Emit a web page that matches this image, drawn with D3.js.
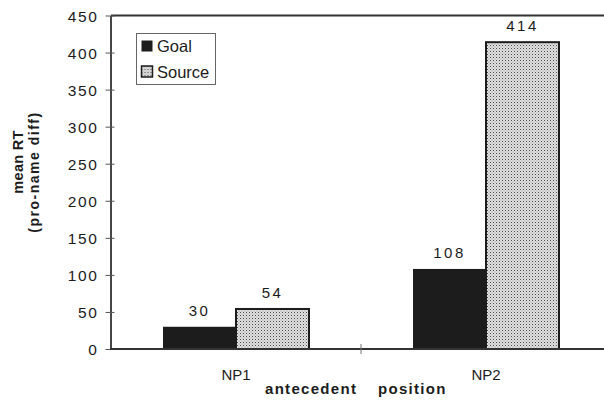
<!DOCTYPE html>
<html>
<head>
<meta charset="utf-8">
<script src="https://cdn.jsdelivr.net/npm/d3@7"></script>
<style>
  html, body { margin: 0; padding: 0; background: #fff; }
  svg { display: block; font-family: "Liberation Sans", Arial, Helvetica, sans-serif; }
</style>
</head>
<body>
<svg id="chart" width="604" height="402"></svg>
<script>
// Data
const categories = ["NP1", "NP2"];
const seriesNames = ["Goal", "Source"];
const goalValues = [30, 108];
const sourceValues = [54, 414];
const yTicks = [0, 50, 100, 150, 200, 250, 300, 350, 400, 450];

const svg = d3.select("#chart");
const ink = "#1c1c1c";

// Dotted stipple used for the Source series
const defs = svg.append("defs");
const pat = defs.append("pattern")
  .attr("id", "stipple")
  .attr("patternUnits", "userSpaceOnUse")
  .attr("width", 3).attr("height", 3);
pat.append("rect").attr("width", 3).attr("height", 3).attr("fill", "#e0e0e0");
pat.append("rect").attr("x", 0).attr("y", 0).attr("width", 1).attr("height", 1).attr("fill", "#4a4a4a");
pat.append("rect").attr("x", 1.5).attr("y", 1.5).attr("width", 1).attr("height", 1).attr("fill", "#959595");

// Scales
const plotLeft = 111, plotRight = 611, plotTop = 15.5, plotBottom = 349;
const x0 = d3.scaleBand().domain(categories).range([plotLeft, plotRight]).padding(0);
const x1 = d3.scaleBand().domain(seriesNames).range([52, 198]).padding(0);
const y = d3.scaleLinear().domain([0, 450]).range([plotBottom, plotTop]);

const rows = categories.map((c, i) => ({
  cat: c,
  vals: [
    { s: "Goal", v: goalValues[i] },
    { s: "Source", v: sourceValues[i] }
  ]
}));

// Frame: top border
svg.append("line")
  .attr("x1", plotLeft).attr("x2", 604)
  .attr("y1", plotTop).attr("y2", plotTop)
  .attr("stroke", "#333").attr("stroke-width", 1.8);

// Bars
const groups = svg.selectAll("g.cat").data(rows).join("g")
  .attr("class", "cat")
  .attr("transform", d => `translate(${x0(d.cat)},0)`);

groups.selectAll("rect").data(d => d.vals).join("rect")
  .attr("x", d => x1(d.s))
  .attr("y", d => y(d.v))
  .attr("width", x1.bandwidth())
  .attr("height", d => y(0) - y(d.v))
  .attr("fill", d => d.s === "Goal" ? ink : "url(#stipple)")
  .attr("stroke", ink)
  .attr("stroke-width", d => d.s === "Goal" ? 0 : 2);

// Value labels
groups.selectAll("text.val").data(d => d.vals).join("text")
  .attr("class", "val")
  .attr("x", d => x1(d.s) + x1.bandwidth() / 2)
  .attr("y", d => y(d.v) - 11)
  .attr("text-anchor", "middle")
  .attr("font-size", 15)
  .attr("letter-spacing", 2.5)
  .attr("fill", ink)
  .text(d => d.v);

// Y axis
const yAxis = d3.axisLeft(y).tickValues(yTicks).tickSize(0).tickPadding(0);
const gy = svg.append("g").attr("transform", `translate(${plotLeft - 0.5},0)`).call(yAxis);
gy.select(".domain").attr("stroke", "#333").attr("stroke-width", 1.8);
gy.selectAll(".tick text")
  .attr("x", -12)
  .attr("dy", "0.36em")
  .attr("font-size", 15.5)
  .attr("letter-spacing", 1.6)
  .attr("font-family", "Liberation Sans, Arial, sans-serif")
  .attr("fill", ink);
gy.selectAll(".tick").append("line")
  .attr("x1", -5).attr("x2", 4)
  .attr("stroke", "#555").attr("stroke-width", 1);

// X axis
const xAxis = d3.axisBottom(x0).tickSize(0).tickPadding(0);
const gx = svg.append("g").attr("transform", `translate(0,${plotBottom})`).call(xAxis);
gx.select(".domain").remove();
gx.append("line")
  .attr("x1", plotLeft - 1).attr("x2", 604)
  .attr("stroke", "#333").attr("stroke-width", 1.8);
gx.selectAll(".tick text")
  .attr("y", 31)
  .attr("dy", 0)
  .attr("font-size", 15)
  .attr("font-family", "Liberation Sans, Arial, sans-serif")
  .attr("fill", ink);
// Category boundary tick
gx.append("line")
  .attr("x1", x0("NP2")).attr("x2", x0("NP2"))
  .attr("y1", -5).attr("y2", 5)
  .attr("stroke", "#777").attr("stroke-width", 1);

// Axis titles
const xTitle = svg.append("g").attr("font-size", 15).attr("font-weight", "bold")
  .attr("letter-spacing", 1.3).attr("fill", ink);
xTitle.append("text").attr("x", 265).attr("y", 394).text("antecedent");
xTitle.append("text").attr("x", 378).attr("y", 394).text("position");

svg.append("text")
  .attr("transform", "translate(23,162) rotate(-90)")
  .attr("text-anchor", "middle")
  .attr("font-size", 14.5)
  .attr("font-weight", "bold")
  .attr("letter-spacing", 0.3)
  .attr("fill", ink)
  .text("mean RT");

svg.append("text")
  .attr("transform", "translate(39,172) rotate(-90)")
  .attr("text-anchor", "middle")
  .attr("font-size", 14)
  .attr("font-weight", "bold")
  .attr("letter-spacing", 1.5)
  .attr("fill", ink)
  .text("(pro-name diff)");

// Legend
const legend = svg.append("g").attr("transform", "translate(136.5,33.5)");
legend.append("rect")
  .attr("width", 79).attr("height", 51)
  .attr("fill", "#fff").attr("stroke", "#666").attr("stroke-width", 1);
const items = legend.selectAll("g.item").data(seriesNames).join("g")
  .attr("class", "item")
  .attr("transform", (d, i) => `translate(5,${7 + i * 25.5})`);
items.append("rect")
  .attr("width", 11).attr("height", 11)
  .attr("fill", d => d === "Goal" ? ink : "url(#stipple)")
  .attr("stroke", ink)
  .attr("stroke-width", d => d === "Goal" ? 0 : 1.5);
items.append("text")
  .attr("x", 15.5).attr("y", 11.5)
  .attr("font-size", 16.5)
  .attr("fill", ink)
  .text(d => d);
</script>
</body>
</html>
